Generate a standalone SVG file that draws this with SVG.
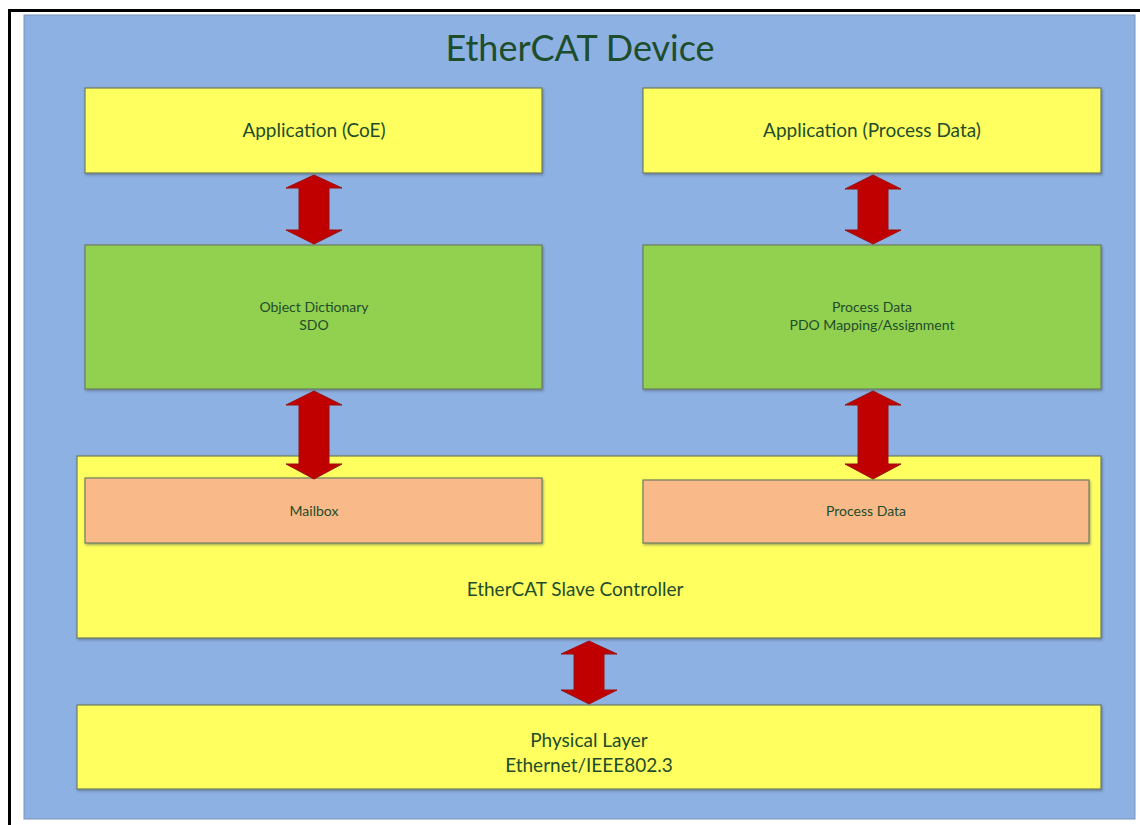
<svg xmlns="http://www.w3.org/2000/svg" width="1140" height="825" viewBox="0 0 1140 825">
<defs>
<style>
.box{stroke:#6f7f5f;stroke-width:1.2}
.y{fill:#FFFF5E}
.g{fill:#92D050}
.o{fill:#F9B988}
.arr{fill:#C00000;stroke:#9a1010;stroke-width:1}
text{font-family:Lato,"Open Sans","Liberation Sans",sans-serif;fill:#1E4D2B;text-anchor:middle}
.t{font-size:36px}
.m{font-size:19px}
.s{font-size:14px}
</style>
<filter id="sh" x="-5%" y="-5%" width="110%" height="115%">
<feDropShadow dx="1" dy="1.5" stdDeviation="1" flood-color="#405060" flood-opacity="0.5"/>
</filter>
</defs>
<rect x="0" y="0" width="1140" height="825" fill="#fff"/>
<path d="M9.5 825 V10.5 H1140" fill="none" stroke="#000" stroke-width="3"/>
<g id="device">
<rect x="24" y="15" width="1111" height="804" fill="#8DB1E3" stroke="#7a95b8" stroke-width="1"/>
<text class="t" x="580" y="61">EtherCAT Device</text>
</g>
<g id="app-coe">
<rect class="box y" x="85" y="88" width="457" height="85" filter="url(#sh)"/>
<text class="m" x="314" y="137">Application (CoE)</text>
</g>
<g id="app-pd">
<rect class="box y" x="643" y="88" width="458" height="85" filter="url(#sh)"/>
<text class="m" x="872" y="137">Application (Process Data)</text>
</g>
<g id="od">
<rect class="box g" x="85" y="245" width="457" height="144" filter="url(#sh)"/>
<text class="s" x="314" y="312">Object Dictionary</text>
<text class="s" x="314" y="330">SDO</text>
</g>
<g id="pdo">
<rect class="box g" x="643" y="245" width="458" height="144" filter="url(#sh)"/>
<text class="s" x="872" y="312">Process Data</text>
<text class="s" x="872" y="330">PDO Mapping/Assignment</text>
</g>
<g id="esc">
<rect class="box y" x="77" y="456" width="1024" height="182" filter="url(#sh)"/>
<text class="m" x="575" y="596">EtherCAT Slave Controller</text>
</g>
<g id="mailbox">
<rect class="box o" x="85" y="478" width="457" height="65" filter="url(#sh)"/>
<text class="s" x="314" y="516">Mailbox</text>
</g>
<g id="pd">
<rect class="box o" x="643" y="480" width="446" height="63" filter="url(#sh)"/>
<text class="s" x="866" y="516">Process Data</text>
</g>
<g id="phy">
<rect class="box y" x="77" y="705" width="1024" height="84" filter="url(#sh)"/>
<text class="m" x="589" y="747">Physical Layer</text>
<text class="m" x="589" y="772">Ethernet/IEEE802.3</text>
</g>
<g id="connectors">
<path class="arr" d="M314 175 L342 188 L329 188 L329 230 L342 230 L314 244 L286 230 L299 230 L299 188 L286 188 Z"/>
<path class="arr" d="M873 175 L901 189 L888 189 L888 230 L901 230 L873 244 L845 230 L858 230 L858 189 L845 189 Z"/>
<path class="arr" d="M314 391 L342 405 L329 405 L329 464 L342 464 L314 479 L286 464 L299 464 L299 405 L286 405 Z"/>
<path class="arr" d="M873 391 L901 405 L888 405 L888 464 L901 464 L873 479 L845 464 L858 464 L858 405 L845 405 Z"/>
<path class="arr" d="M589 641 L617 654 L604 654 L604 690 L617 690 L589 704 L561 690 L574 690 L574 654 L561 654 Z"/>
</g>
</svg>
